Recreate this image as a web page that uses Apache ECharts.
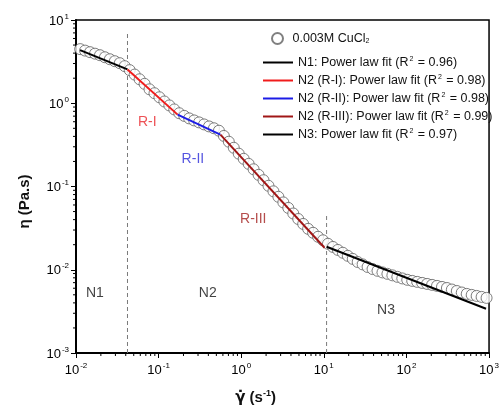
<!DOCTYPE html>
<html>
<head>
<meta charset="utf-8">
<script src="https://cdn.jsdelivr.net/npm/echarts@6/dist/echarts.min.js"></script>
<style>html,body{margin:0;padding:0;background:#fff}#chart{width:502px;height:418px}</style>
</head>
<body>
<div id="chart"></div>
<script>
// ---- data ----
const shearRate = [0.01122,0.01288,0.01479,0.01698,0.0195,0.02239,0.0257,0.02951,0.03388,0.0389,
  0.04467,0.05129,0.05888,0.06761,0.07762,0.08913,0.1023,0.1175,0.1349,0.1549,
  0.1778,0.2042,0.2344,0.2692,0.309,0.3548,0.4074,0.4677,0.537,0.6166,
  0.7079,0.8128,0.9333,1.072,1.23,1.413,1.622,1.862,2.138,2.455,
  2.818,3.236,3.715,4.266,4.898,5.623,6.457,7.413,8.511,9.772,
  11.22,12.88,14.79,16.98,19.5,22.39,25.7,29.51,33.88,38.9,
  44.67,51.29,58.88,67.61,77.62,89.13,102.3,117.5,134.9,154.9,
  177.8,204.2,234.4,269.2,309.0,354.8,407.4,467.7,537.0,616.6,
  707.9,812.8,933.3];
const viscosity = [4.47,4.29,4.11,3.94,3.78,3.57,3.38,3.2,3.03,2.79,
  2.5,2.21,1.94,1.71,1.47,1.32,1.18,1.05,0.942,0.843,
  0.759,0.705,0.658,0.622,0.589,0.557,0.527,0.501,0.468,0.405,
  0.345,0.292,0.248,0.215,0.187,0.161,0.138,0.119,0.102,0.0875,
  0.0752,0.0644,0.0553,0.0474,0.0407,0.0355,0.031,0.0278,0.0249,0.0226,
  0.0205,0.0188,0.0173,0.016,0.0147,0.0135,0.0124,0.0116,0.0108,0.0102,
  0.00971,0.00929,0.00893,0.00857,0.00822,0.00787,0.00757,0.00735,0.00715,0.00695,
  0.00676,0.00658,0.0064,0.00622,0.00604,0.00579,0.00556,0.00533,0.00513,0.00499,
  0.00485,0.00472,0.00459];

const n1FitX = [0.0112, 0.042],  n1FitY = [4.35, 2.55];
const r1FitX = [0.042, 0.17],    r1FitY = [2.55, 0.73];
const r2FitX = [0.17, 0.56],     r2FitY = [0.73, 0.42];
const r3FitX = [0.56, 10.2],     r3FitY = [0.42, 0.0184];
const n3FitX = [10.8, 920],      n3FitY = [0.0189, 0.0034];

const boundaryX = [0.042, 10.8];
const boundaryTop = [7.2, 0.046];

const regionLabels = ['N1', 'N2', 'N3', 'R-I', 'R-II', 'R-III'];
const regionLabelX = [0.0169, 0.394, 56.6, 0.073, 0.26, 1.40];
const regionLabelY = [0.00528, 0.00528, 0.0033, 0.59, 0.211, 0.0411];

const xTickExponents = [-2, -1, 0, 1, 2, 3];
const yTickExponents = [-3, -2, -1, 0, 1];

const seriesNames = ['0.003M CuCl2', 'N1: Power law fit (R2 = 0.96)', 'N2 (R-I): Power law fit (R2 = 0.98)',
  'N2 (R-II): Power law fit (R2 = 0.98)', 'N2 (R-III): Power law fit (R2 = 0.99)', 'N3: Power law fit (R2 = 0.97)'];

// ---- styles ----
const FONT = 'Liberation Sans, Arial, sans-serif';
const labelColors = { 'N1': '#111', 'N2': '#111', 'N3': '#111', 'R-I': '#e8262a', 'R-II': '#2a2ad8', 'R-III': '#a3201f' };
const fitColors = ['#000000', '#f01c1c', '#1c1ce6', '#a01616', '#000000'];

const zip = (xs, ys) => xs.map((x, i) => [x, ys[i]]);

// minor tick positions (2..9 in each decade)
const xMinor = [], yMinor = [];
for (let e = -2; e < 3; e++) for (let m = 2; m <= 9; m++) xMinor.push(m * Math.pow(10, e));
for (let e = -3; e < 1; e++) for (let m = 2; m <= 9; m++) yMinor.push(m * Math.pow(10, e));

const tickRich = {
  b: { fontSize: 13, fontFamily: FONT, color: '#000', verticalAlign: 'bottom' },
  e: { fontSize: 8, fontFamily: FONT, color: '#000', verticalAlign: 'bottom', padding: [0, 0, 7, 1] }
};
function powLabel(v) {
  const e = Math.round(Math.log10(v));
  return '{b|10}{e|' + e + '}';
}

function legendFmt(name) {
  if (name === seriesNames[0]) return '0.003M CuCl{sub|2}';
  return name.replace('(R2', '(R{sup|2}');
}
const legendRich = {
  sub: { fontSize: 7, fontFamily: FONT, color: '#111', verticalAlign: 'bottom', padding: [3, 0, 0, 0] },
  sup: { fontSize: 7, fontFamily: FONT, color: '#111', verticalAlign: 'bottom', padding: [0, 1, 7, 1] }
};

const chart = echarts.init(document.getElementById('chart'), null, { renderer: 'canvas' });

const fitSets = [[n1FitX, n1FitY], [r1FitX, r1FitY], [r2FitX, r2FitY], [r3FitX, r3FitY], [n3FitX, n3FitY]];

const series = [
  {
    name: seriesNames[0], type: 'scatter', data: zip(shearRate, viscosity),
    symbol: 'circle', symbolSize: 11, z: 2,
    itemStyle: { color: '#ffffff', borderColor: '#606060', borderWidth: 1 },
    emphasis: { disabled: true }
  }
];
fitSets.forEach((s, i) => {
  series.push({
    name: seriesNames[i + 1], type: 'line', data: zip(s[0], s[1]),
    symbol: 'none', z: 4, lineStyle: { color: fitColors[i], width: 2 }, itemStyle: { color: fitColors[i] },
    emphasis: { disabled: true }
  });
});
boundaryX.forEach((bx, i) => {
  series.push({
    name: 'boundary' + i, type: 'line', data: [[bx, 0.001], [bx, boundaryTop[i]]],
    symbol: 'none', z: 1, lineStyle: { color: '#7a7a7a', width: 1, type: [4, 3] }, emphasis: { disabled: true }
  });
});
series.push({
  name: 'regions', type: 'scatter', symbolSize: 0, z: 5,
  data: regionLabels.map((n, i) => ({
    name: n, value: [regionLabelX[i], regionLabelY[i]],
    label: { show: true, position: 'inside', formatter: n, color: labelColors[n], fontSize: 14, fontFamily: FONT }
  })),
  emphasis: { disabled: true }
});
series.push({
  name: 'xminor', type: 'custom', silent: true, z: 6, clip: false,
  data: xMinor.map(v => [v, 0.001]),
  renderItem: (params, api) => {
    const p = api.coord([api.value(0), api.value(1)]);
    return { type: 'line', shape: { x1: p[0], y1: p[1], x2: p[0], y2: p[1] + 3 }, style: { stroke: '#000', lineWidth: 1 } };
  }
});
series.push({
  name: 'yminor', type: 'custom', silent: true, z: 6, clip: false,
  data: yMinor.map(v => [0.01, v]),
  renderItem: (params, api) => {
    const p = api.coord([api.value(0), api.value(1)]);
    return { type: 'line', shape: { x1: p[0] - 3, y1: p[1], x2: p[0], y2: p[1] }, style: { stroke: '#000', lineWidth: 1 } };
  }
});

chart.setOption({
  animation: false,
  backgroundColor: '#ffffff',
  grid: { left: 76, top: 20, right: 8, bottom: 65, show: true, borderColor: '#000', borderWidth: 1.5, backgroundColor: 'transparent' },
  legend: [
    {
      data: [seriesNames[0]], left: 266, top: 27, orient: 'vertical',
      itemWidth: 20, itemHeight: 11, selectedMode: false,
      formatter: legendFmt,
      textStyle: { fontSize: 12.5, fontFamily: FONT, color: '#111', rich: legendRich }
    },
    {
      data: seriesNames.slice(1).map(n => ({ name: n, icon: 'rect' })),
      left: 258, top: 50, orient: 'vertical',
      itemWidth: 30, itemHeight: 2, itemGap: 3, selectedMode: false,
      formatter: legendFmt,
      textStyle: { fontSize: 12.5, fontFamily: FONT, color: '#111', lineHeight: 15, rich: legendRich }
    }
  ],
  xAxis: {
    type: 'log', logBase: 10, min: 0.01, max: 1000,
    name: '{g|γ̇} (s{sup|-1})', nameLocation: 'middle', nameGap: 36,
    nameTextStyle: { fontSize: 15, fontWeight: 'bold', fontFamily: FONT, color: '#111', padding: [0, 54, 0, 0],
      rich: {
        g: { fontSize: 15, fontWeight: 'bold', fontFamily: 'DejaVu Sans', color: '#111', verticalAlign: 'bottom' },
        sup: { fontSize: 9, fontWeight: 'bold', fontFamily: FONT, color: '#111', verticalAlign: 'bottom', padding: [0, 0, 8, 0] }
      } },
    axisLine: { show: true, onZero: false, lineStyle: { color: '#000', width: 2 } },
    axisTick: { show: true, inside: false, length: 5, lineStyle: { color: '#000', width: 1 } },
    minorTick: { show: false },
    splitLine: { show: false },
    axisLabel: { formatter: powLabel, rich: tickRich, margin: 9 }
  },
  yAxis: {
    type: 'log', logBase: 10, min: 0.001, max: 10,
    name: 'η (Pa.s)', nameLocation: 'middle', nameGap: 44,
    nameTextStyle: { fontSize: 15, fontWeight: 'bold', fontFamily: FONT, color: '#111', padding: [0, 30, 0, 0] },
    axisLine: { show: true, onZero: false, lineStyle: { color: '#000', width: 2 } },
    axisTick: { show: true, inside: false, length: 5, lineStyle: { color: '#000', width: 1 } },
    splitLine: { show: false },
    axisLabel: { formatter: powLabel, rich: tickRich, margin: 7 }
  },
  series: series
});
</script>
</body>
</html>
